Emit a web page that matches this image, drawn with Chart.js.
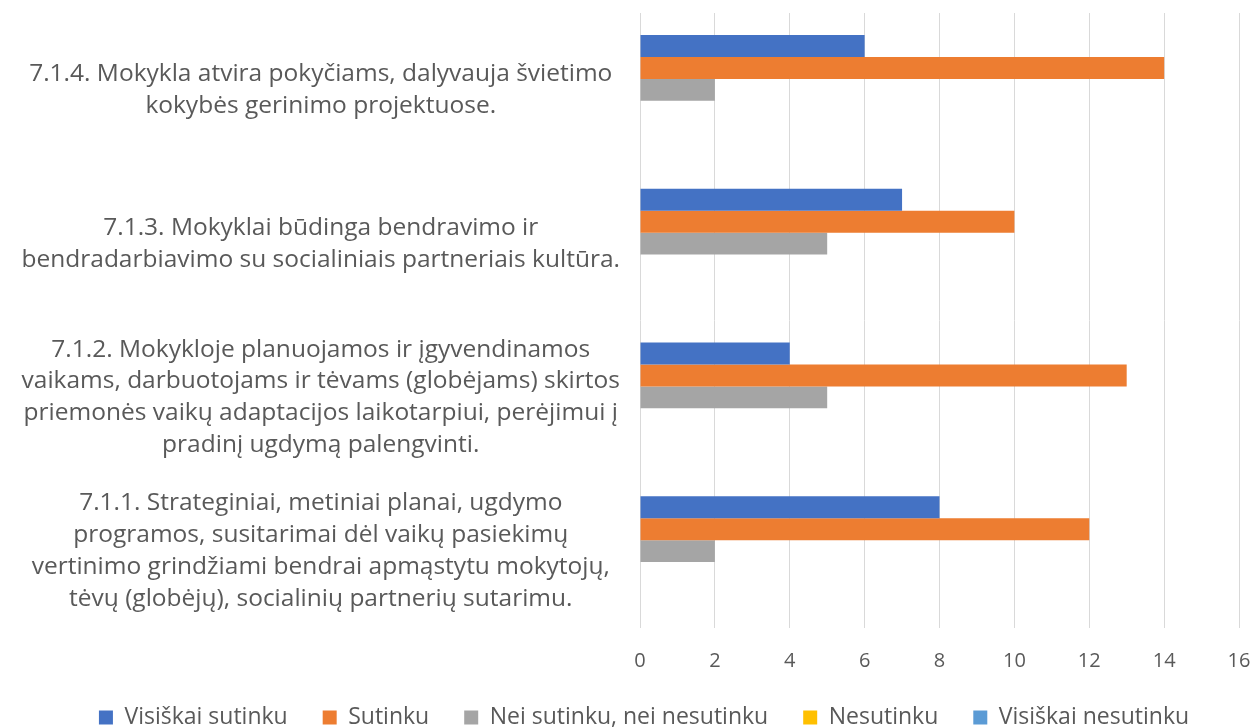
<!DOCTYPE html>
<html>
<head>
<meta charset="utf-8">
<script src="https://cdn.jsdelivr.net/npm/chart.js@4"></script>
<style>
html,body{margin:0;padding:0;background:#fff;}
#wrap{width:1252px;height:727px;position:relative;}
</style>
</head>
<body>
<div id="wrap"><canvas id="c"></canvas></div>
<script>
const categories = [
  ["7.1.4. Mokykla atvira pokyčiams, dalyvauja švietimo", "kokybės gerinimo projektuose."],
  ["7.1.3. Mokyklai būdinga bendravimo ir", "bendradarbiavimo su socialiniais partneriais kultūra."],
  ["7.1.2. Mokykloje planuojamos ir įgyvendinamos", "vaikams, darbuotojams ir tėvams (globėjams) skirtos", "priemonės vaikų adaptacijos laikotarpiui, perėjimui į", "pradinį ugdymą palengvinti."],
  ["7.1.1. Strateginiai, metiniai planai, ugdymo", "programos, susitarimai dėl vaikų pasiekimų", "vertinimo grindžiami bendrai apmąstytu mokytojų,", "tėvų (globėjų), socialinių partnerių sutarimu."]
];
const seriesNames = ["Visiškai sutinku", "Sutinku", "Nei sutinku, nei nesutinku", "Nesutinku", "Visiškai nesutinku"];
const visiskaiSutinku = [6, 7, 4, 8];
const sutinku = [14, 10, 13, 12];
const neiSutinku = [2, 5, 5, 2];
const nesutinku = [0, 0, 0, 0];
const visiskaiNesutinku = [0, 0, 0, 0];
const xTicks = [0, 2, 4, 6, 8, 10, 12, 14, 16];

const colors = ["#4472C4", "#ED7D31", "#A5A5A5", "#FFC000", "#5B9BD5"];
const values = [visiskaiSutinku, sutinku, neiSutinku, nesutinku, visiskaiNesutinku];
const FONT = "'Open Sans', sans-serif";
const TXT = "#595959";
const GAP = "\u2002\u2002";

const shiftLegend = {
  id: 'shiftLegend',
  afterLayout(chart) {
    const lg = chart.legend;
    if (lg) { lg.left += 18; lg.right += 18; }
  }
};

new Chart(document.getElementById('c'), {
  type: 'bar',
  data: {
    labels: categories,
    datasets: seriesNames.map((n, i) => ({
      label: n,
      data: values[i],
      backgroundColor: colors[i],
      borderWidth: 0,
      barPercentage: 1,
      categoryPercentage: 0.715
    }))
  },
  plugins: [shiftLegend],
  options: {
    indexAxis: 'y',
    responsive: true,
    maintainAspectRatio: false,
    animation: false,
    layout: { padding: { top: 13, right: 0, left: 0, bottom: -12 } },
    scales: {
      x: {
        min: 0, max: 16,
        afterBuildTicks: (s) => { s.ticks = xTicks.map(v => ({ value: v })); },
        afterFit: (s) => { s.paddingRight = 13; },
        grid: { color: '#D9D9D9', lineWidth: 1, drawTicks: false },
        border: { display: false },
        ticks: { color: TXT, font: { family: FONT, size: 20 }, padding: 21 }
      },
      y: {
        grid: { display: false, drawTicks: false },
        border: { display: false },
        afterFit: (s) => { s.width = 640; s.paddingTop = 0; s.paddingBottom = 0; },
        ticks: {
          color: TXT,
          crossAlign: 'center',
          padding: 20,
          font: { family: FONT, size: 24.5, lineHeight: 1.3 }
        }
      }
    },
    plugins: {
      legend: {
        position: 'bottom',
        labels: {
          color: TXT,
          boxWidth: 14,
          boxHeight: 14,
          padding: 12,
          font: { family: FONT, size: 23 },
          generateLabels: (chart) => {
            const items = Chart.defaults.plugins.legend.labels.generateLabels(chart);
            items.forEach((it, i) => { if (i < items.length - 1) it.text = it.text + GAP; });
            return items;
          }
        }
      },
      tooltip: { enabled: false }
    }
  }
});
</script>
</body>
</html>
